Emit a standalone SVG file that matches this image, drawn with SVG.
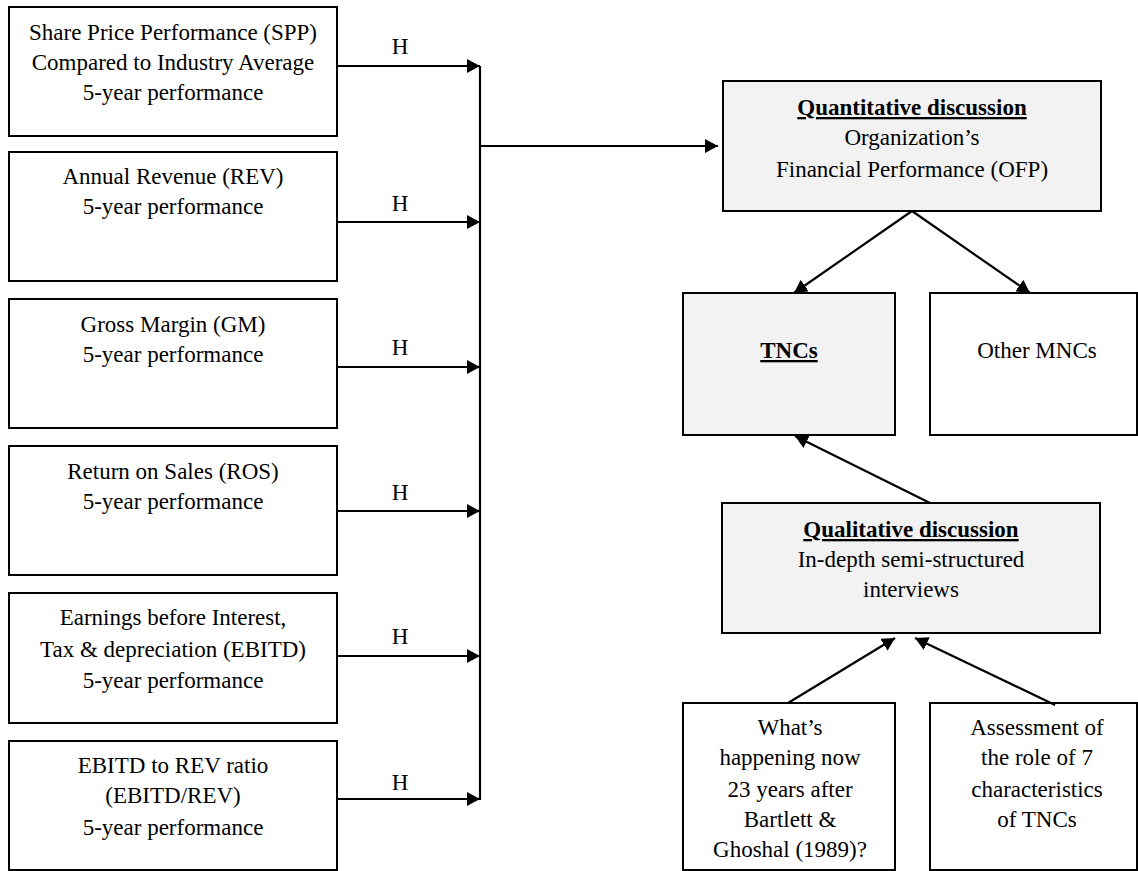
<svg xmlns="http://www.w3.org/2000/svg" width="1138" height="871" viewBox="0 0 1138 871" font-family="'Liberation Serif', 'Times New Roman', serif">
<style>
text{font-family:'Liberation Serif','Times New Roman',serif;font-size:23px;fill:#000;text-anchor:middle}
.b{font-weight:bold;text-decoration:underline}
.box{fill:#fff;stroke:#000;stroke-width:2}
.grey{fill:#f2f2f2;stroke:#000;stroke-width:2}
.ln{stroke:#000;stroke-width:2.2;fill:none}
.arr{marker-end:url(#ah)}
</style>
<defs>
<marker id="ah" markerUnits="userSpaceOnUse" markerWidth="14" markerHeight="14" refX="13" refY="7" orient="auto">
<path d="M0,0 L13,7 L0,14 z" fill="#000"/>
</marker>
</defs>
<rect width="1138" height="871" fill="#fff"/>
<g id="spp"><rect class="box" x="9" y="7" width="328" height="129"/>
<text x="173" y="40">Share Price Performance (SPP)</text>
<text x="173" y="70">Compared to Industry Average</text>
<text x="173" y="100">5-year performance</text></g>
<g id="rev"><rect class="box" x="9" y="152" width="328" height="129"/>
<text x="173" y="184">Annual Revenue (REV)</text>
<text x="173" y="214">5-year performance</text></g>
<g id="gm"><rect class="box" x="9" y="299" width="328" height="129"/>
<text x="173" y="332">Gross Margin (GM)</text>
<text x="173" y="362">5-year performance</text></g>
<g id="ros"><rect class="box" x="9" y="446" width="328" height="129"/>
<text x="173" y="479">Return on Sales (ROS)</text>
<text x="173" y="509">5-year performance</text></g>
<g id="ebitd"><rect class="box" x="9" y="593" width="328" height="130"/>
<text x="173" y="625">Earnings before Interest,</text>
<text x="173" y="657">Tax &amp; depreciation (EBITD)</text>
<text x="173" y="688">5-year performance</text></g>
<g id="ratio"><rect class="box" x="9" y="741" width="328" height="129"/>
<text x="173" y="773">EBITD to REV ratio</text>
<text x="173" y="803">(EBITD/REV)</text>
<text x="173" y="835">5-year performance</text></g>
<g id="quant"><rect class="grey" x="723" y="81" width="378" height="130"/>
<text class="b" x="912" y="115">Quantitative discussion</text>
<text x="912" y="145">Organization’s</text>
<text x="912" y="177">Financial Performance (OFP)</text></g>
<g id="tncs"><rect class="grey" x="683" y="293" width="212" height="142"/>
<text class="b" x="789" y="358">TNCs</text></g>
<g id="mncs"><rect class="box" x="930" y="293" width="207" height="142"/>
<text x="1037" y="358">Other MNCs</text></g>
<g id="qual"><rect class="grey" x="722" y="503" width="378" height="130"/>
<text class="b" x="911" y="537">Qualitative discussion</text>
<text x="911" y="567">In-depth semi-structured</text>
<text x="911" y="597">interviews</text></g>
<g id="whats"><rect class="box" x="683" y="703" width="212" height="167"/>
<text x="790" y="735">What’s</text>
<text x="790" y="765">happening now</text>
<text x="790" y="797">23 years after</text>
<text x="790" y="827">Bartlett &amp;</text>
<text x="790" y="857">Ghoshal (1989)?</text></g>
<g id="assess"><rect class="box" x="930" y="703" width="207" height="167"/>
<text x="1037" y="735">Assessment of</text>
<text x="1037" y="765">the role of 7</text>
<text x="1037" y="797">characteristics</text>
<text x="1037" y="827">of TNCs</text></g>
<g id="connectors">
<line class="ln arr" x1="337" y1="66" x2="480" y2="66"/>
<line class="ln arr" x1="337" y1="222" x2="480" y2="222"/>
<line class="ln arr" x1="337" y1="367" x2="480" y2="367"/>
<line class="ln arr" x1="337" y1="511" x2="480" y2="511"/>
<line class="ln arr" x1="337" y1="656" x2="480" y2="656"/>
<line class="ln arr" x1="337" y1="799" x2="480" y2="799"/>
<line class="ln" x1="480" y1="66" x2="480" y2="800"/>
<line class="ln arr" x1="480" y1="146" x2="718" y2="146"/>
<line class="ln arr" x1="912" y1="211" x2="794" y2="293"/>
<line class="ln arr" x1="912" y1="211" x2="1030" y2="293"/>
<line class="ln arr" x1="930" y1="503" x2="795" y2="436"/>
<line class="ln arr" x1="788" y1="703" x2="895" y2="638"/>
<line class="ln arr" x1="1055" y1="705" x2="915" y2="638"/>
<text x="400" y="54">H</text>
<text x="400" y="211">H</text>
<text x="400" y="355">H</text>
<text x="400" y="500">H</text>
<text x="400" y="644">H</text>
<text x="400" y="790">H</text>
</g>
</svg>
